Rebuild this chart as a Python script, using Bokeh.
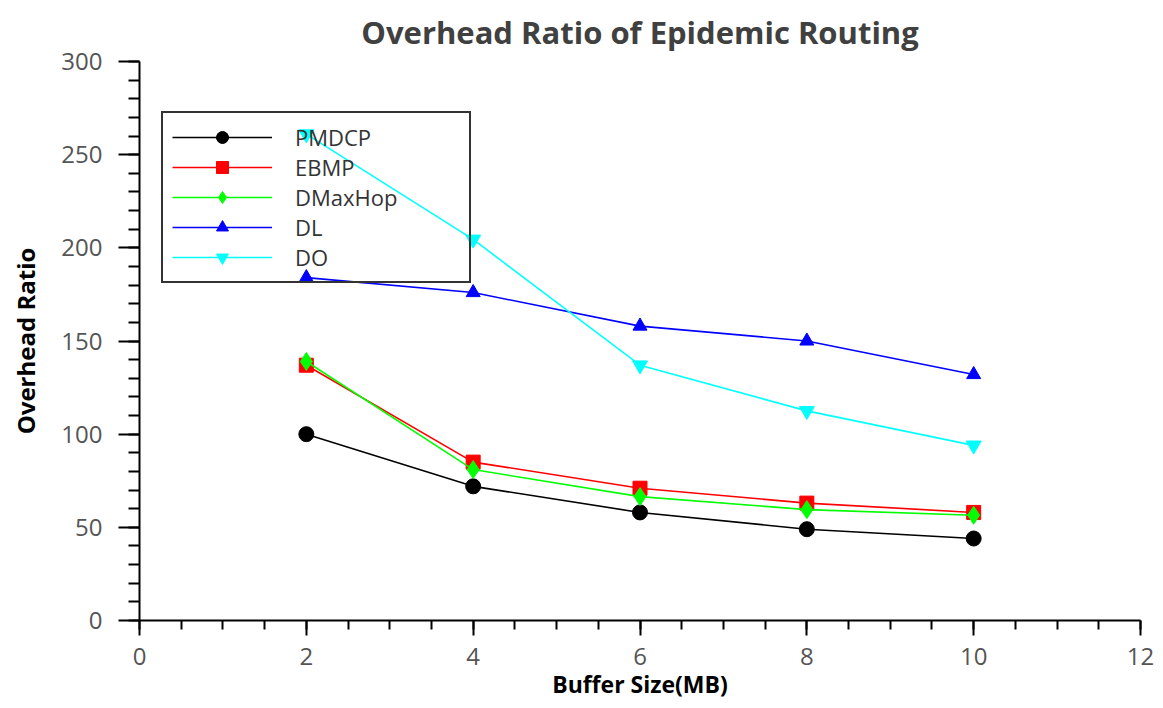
from bokeh.plotting import figure
from bokeh.models import SingleIntervalTicker, Range1d, Legend, LegendItem
from bokeh.embed import file_html
from bokeh.resources import INLINE

buffer_size = [2, 4, 6, 8, 10]
pmdcp = [100, 72, 58, 49, 44]
ebmp = [137, 85, 71, 63, 58]
dmaxhop = [139, 81, 66.5, 59.5, 56.5]
dl = [184, 176, 158, 150, 132]
do = [261, 204.5, 137, 112.5, 94]

x_ticks_interval = 2
y_ticks_interval = 50

p = figure(width=1155, height=700, output_backend="svg", toolbar_location=None,
           x_range=Range1d(0, 12), y_range=Range1d(0, 300),
           title="Overhead Ratio of Epidemic Routing")
p.frame_width = 1001
p.frame_height = 559
p.min_border_left = 139
p.min_border_right = 15
p.min_border_top = 61
p.min_border_bottom = 80
p.outline_line_color = None
p.xgrid.visible = False
p.ygrid.visible = False

p.title.align = "center"
p.title.text_font = "Open Sans"
p.title.text_font_style = "bold"
p.title.text_font_size = "31px"
p.title.text_color = "#404040"
p.title.offset = 0
p.title.standoff = 17

p.xaxis.ticker = SingleIntervalTicker(interval=x_ticks_interval, num_minor_ticks=4)
p.yaxis.ticker = SingleIntervalTicker(interval=y_ticks_interval, num_minor_ticks=5)

for ax in (p.xaxis[0], p.yaxis[0]):
    ax.axis_line_color = "black"
    ax.axis_line_width = 2
    ax.major_tick_line_color = "black"
    ax.major_tick_line_width = 2
    ax.minor_tick_line_color = "black"
    ax.minor_tick_line_width = 2
    ax.major_tick_in = 0
    ax.minor_tick_in = 0
    ax.major_label_text_font = "Open Sans"
    ax.major_label_text_font_size = "24px"
    ax.major_label_text_color = "#555555"
    ax.axis_label_text_font = "Open Sans"
    ax.axis_label_text_font_style = "bold"
    ax.axis_label_text_font_size = "24px"
    ax.axis_label_text_color = "black"

p.xaxis.axis_label = "Buffer Size(MB)"
p.xaxis.axis_label_text_font_size = "23px"
p.xaxis.major_tick_out = 15
p.xaxis.minor_tick_out = 9
p.xaxis.major_label_standoff = 12
p.xaxis.axis_label_standoff = 0

p.yaxis.axis_label = "Overhead Ratio"
p.yaxis.major_tick_out = 21
p.yaxis.minor_tick_out = 11
p.yaxis.major_label_standoff = 16
p.yaxis.axis_label_standoff = 16

series = [
    ("PMDCP", pmdcp, "black", "circle", 15),
    ("EBMP", ebmp, "red", "square", 14),
    ("DMaxHop", dmaxhop, "#00ff00", "diamond", 18),
    ("DL", dl, "blue", "triangle", 14),
    ("DO", do, "cyan", "inverted_triangle", 15),
]

items = []
for name, ys, color, marker, size in series:
    r1 = p.line(buffer_size, ys, line_color=color, line_width=1.6)
    r2 = p.scatter(buffer_size, ys, marker=marker, size=size,
                   fill_color=color, line_color=color)
    items.append(LegendItem(label=name, renderers=[r1, r2]))

legend = Legend(items=items, location=(22, 337))
legend.glyph_width = 100
legend.glyph_height = 30
legend.label_height = 30
legend.label_width = 165
legend.spacing = 0
legend.padding = 9
legend.margin = 0
legend.label_standoff = 23
legend.label_text_font = "Open Sans"
legend.label_text_font_size = "22px"
legend.label_text_color = "#333333"
legend.border_line_color = "#333333"
legend.border_line_alpha = 1.0
legend.border_line_width = 2
legend.background_fill_alpha = 0
p.add_layout(legend, "center")

open("out.html", "w").write(file_html(p, INLINE))
